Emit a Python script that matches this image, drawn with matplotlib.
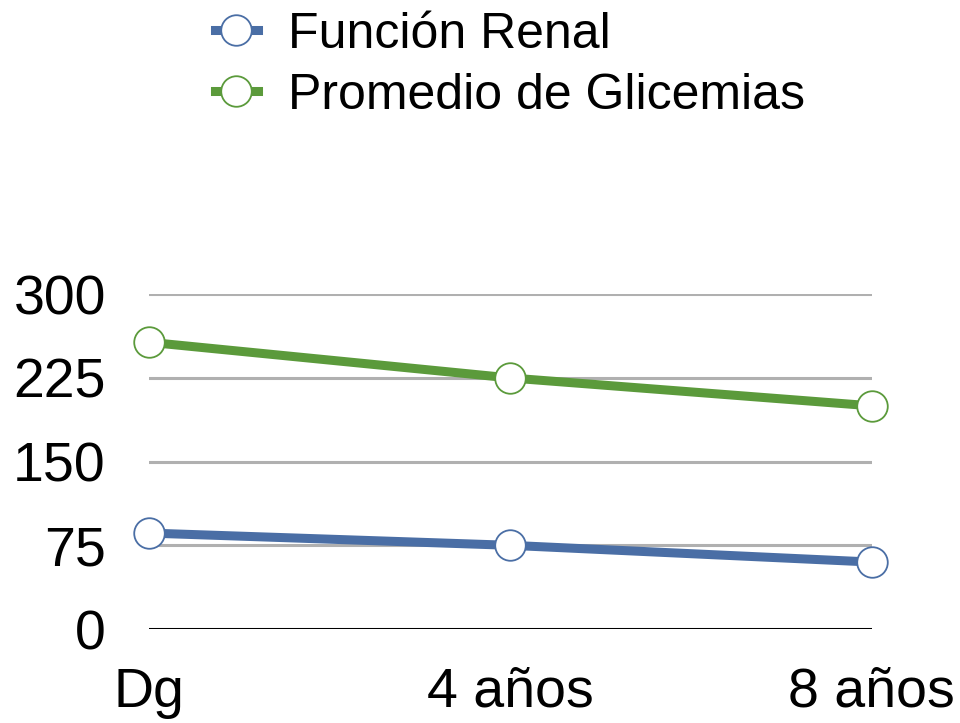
import matplotlib
matplotlib.use("Agg")
import matplotlib.pyplot as plt

plt.rcParams['font.family'] = ['Liberation Sans', 'DejaVu Sans']

periodos = ["Dg", "4 años", "8 años"]
funcion_renal = [86, 75, 60]
glicemias = [257, 225, 200]
y_ticks = [0, 75, 150, 225, 300]

azul = "#4a6ea5"
verde = "#5b9a3b"

fig = plt.figure(figsize=(9.6, 7.23), dpi=100)
ax = fig.add_axes([0.155, 0.130, 0.753, 0.463])

x = list(range(len(periodos)))
estilo = dict(lw=6.5, marker="o", ms=22, mfc="white", mew=1.3, clip_on=False, zorder=5)
l1, = ax.plot(x, funcion_renal, color=azul, mec=azul, label="Función Renal", **estilo)
l2, = ax.plot(x, glicemias, color=verde, mec=verde, label="Promedio de Glicemias", **estilo)

ax.set_xlim(0, 2)
ax.set_ylim(0, 300)
ax.set_yticks(y_ticks)
ax.set_xticks(x)
ax.set_xticklabels(periodos)
for v in y_ticks[1:]:
    ax.axhline(v, color="#b0b0b0", lw=2.2, zorder=1)
ax.axhline(0, color="black", lw=2.2, zorder=2)

for s in ax.spines.values():
    s.set_visible(False)
ax.tick_params(axis="both", length=0, labelsize=40)
ax.tick_params(axis="y", pad=31)
ax.tick_params(axis="x", pad=27)

fig.legend(handles=[l1, l2], loc="upper left", bbox_to_anchor=(0.224, 0.984),
           frameon=False, fontsize=36, handlelength=0.85, handletextpad=0.6,
           labelspacing=0.3, borderpad=0, borderaxespad=0, markerscale=1.0)

fig.savefig("out.png", dpi=100)
